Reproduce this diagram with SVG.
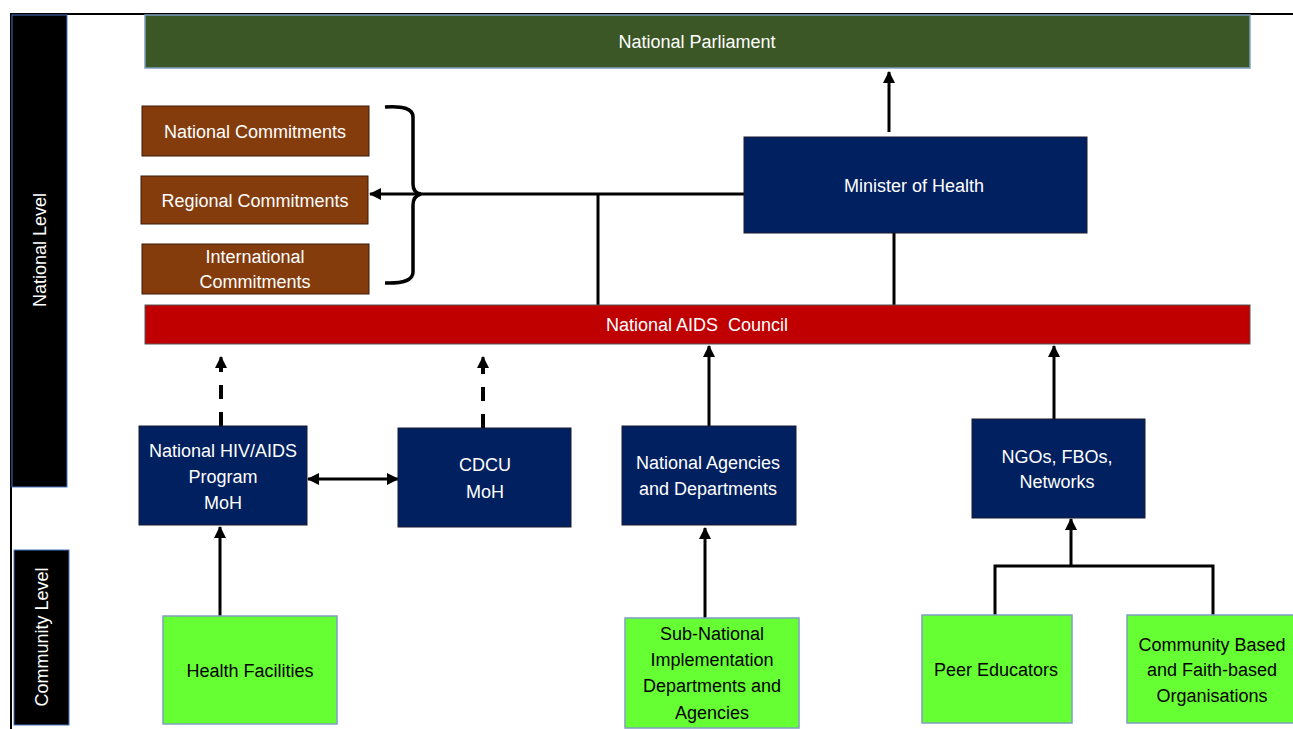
<svg xmlns="http://www.w3.org/2000/svg" width="1293" height="729" viewBox="0 0 1293 729">
  <style>
    text { font-family: "Liberation Sans", Arial, sans-serif; font-size: 18px; text-anchor: middle; }
    .lt { fill: #ffffff; }
    .dk { fill: #000000; }
    .band { fill: #000000; stroke: #4472c4; stroke-width: 1; }
    .navy { fill: #002060; stroke: #1a1a2e; stroke-width: 1; }
    .brown { fill: #843c0c; stroke: #3a1a06; stroke-width: 1; }
    .green { fill: #66ff33; stroke: #7f9fc0; stroke-width: 1.5; }
    .parl { fill: #3a5725; stroke: #7f9fc0; stroke-width: 1.5; }
    .nac { fill: #c00000; stroke: #555555; stroke-width: 1; }
    .line { fill: none; stroke: #000000; stroke-width: 3; }
    .dash { fill: none; stroke: #000000; stroke-width: 4; stroke-dasharray: 14 13; }
  </style>
  <defs>
    <marker id="head" viewBox="0 0 12 12" refX="11" refY="6" markerWidth="12" markerHeight="12" markerUnits="userSpaceOnUse" orient="auto-start-reverse">
      <path d="M0,0 L12,6 L0,12 Z" fill="#000000"/>
    </marker>
  </defs>

  <rect width="1293" height="729" fill="#ffffff"/>

  <!-- outer frame -->
  <path d="M11,729 V14 H1293" fill="none" stroke="#000000" stroke-width="2"/>

  <!-- level bands -->
  <g id="band-national">
    <rect class="band" x="12" y="15" width="55" height="472"/>
    <text class="lt" transform="translate(46,250) rotate(-90)">National Level</text>
  </g>
  <g id="band-community">
    <rect class="band" x="14" y="550" width="55" height="175"/>
    <text class="lt" transform="translate(48,637) rotate(-90)">Community Level</text>
  </g>

  <!-- connectors -->
  <g id="connectors">
    <!-- Minister up to Parliament -->
    <path class="line" d="M889,132 V72" marker-end="url(#head)"/>
    <!-- Minister down to NAC -->
    <path class="line" d="M894,233 V305"/>
    <!-- commitments link -->
    <path class="line" d="M744,194 H370" marker-end="url(#head)"/>
    <path class="line" d="M598,194 V310"/>
    <path d="M385,107 Q413,105 413,117 L413,184 Q413,193 421,194 Q413,196 413,205 L413,272 Q413,284 385,283" fill="none" stroke="#000000" stroke-width="3.5"/>
    <!-- dashed reporting lines to NAC -->
    <path class="dash" d="M221,426 V366"/>
    <path class="line" d="M221,368 V357" marker-end="url(#head)"/>
    <path class="dash" d="M483,428 V368"/>
    <path class="line" d="M483,370 V357" marker-end="url(#head)"/>
    <!-- solid lines to NAC -->
    <path class="line" d="M709,426 V346" marker-end="url(#head)"/>
    <path class="line" d="M1054,419 V346" marker-end="url(#head)"/>
    <!-- HIV program <-> CDCU -->
    <path class="line" d="M308,479 H398" marker-start="url(#head)" marker-end="url(#head)"/>
    <!-- community to national -->
    <path class="line" d="M220,616 V527" marker-end="url(#head)"/>
    <path class="line" d="M705,618 V528" marker-end="url(#head)"/>
    <path class="line" d="M995,615 V566 H1213 V615"/>
    <path class="line" d="M1071,566 V519" marker-end="url(#head)"/>
  </g>

  <g id="national-parliament">
    <rect class="parl" x="145" y="15" width="1105" height="53"/>
    <text class="lt" x="697" y="48">National Parliament</text>
  </g>

  <g id="national-commitments">
    <rect class="brown" x="142" y="106" width="227" height="50"/>
    <text class="lt" x="255" y="138">National Commitments</text>
  </g>
  <g id="regional-commitments">
    <rect class="brown" x="141" y="176" width="227" height="48"/>
    <text class="lt" x="255" y="207">Regional Commitments</text>
  </g>
  <g id="international-commitments">
    <rect class="brown" x="142" y="244" width="227" height="50"/>
    <text class="lt" x="255" y="263">International</text>
    <text class="lt" x="255" y="288">Commitments</text>
  </g>

  <g id="minister-of-health">
    <rect class="navy" x="744" y="137" width="343" height="96"/>
    <text class="lt" x="914" y="192">Minister of Health</text>
  </g>

  <g id="national-aids-council">
    <rect class="nac" x="145" y="305" width="1105" height="39"/>
    <text class="lt" x="697" y="331" xml:space="preserve">National AIDS  Council</text>
  </g>

  <g id="hiv-aids-program">
    <rect class="navy" x="139" y="426" width="168" height="99"/>
    <text class="lt" x="223" y="457">National HIV/AIDS</text>
    <text class="lt" x="223" y="483">Program</text>
    <text class="lt" x="223" y="509">MoH</text>
  </g>

  <g id="cdcu">
    <rect class="navy" x="398" y="428" width="173" height="99"/>
    <text class="lt" x="485" y="471">CDCU</text>
    <text class="lt" x="485" y="498">MoH</text>
  </g>

  <g id="national-agencies">
    <rect class="navy" x="622" y="426" width="174" height="99"/>
    <text class="lt" x="708" y="469">National Agencies</text>
    <text class="lt" x="708" y="495">and Departments</text>
  </g>

  <g id="ngos">
    <rect class="navy" x="972" y="419" width="173" height="99"/>
    <text class="lt" x="1057" y="463">NGOs, FBOs,</text>
    <text class="lt" x="1057" y="488">Networks</text>
  </g>

  <g id="health-facilities">
    <rect class="green" x="163" y="616" width="174" height="108"/>
    <text class="dk" x="250" y="677">Health Facilities</text>
  </g>

  <g id="sub-national">
    <rect class="green" x="625" y="618" width="174" height="110"/>
    <text class="dk" x="712" y="640">Sub-National</text>
    <text class="dk" x="712" y="666">Implementation</text>
    <text class="dk" x="712" y="692">Departments and</text>
    <text class="dk" x="712" y="719">Agencies</text>
  </g>

  <g id="peer-educators">
    <rect class="green" x="922" y="615" width="150" height="108"/>
    <text class="dk" x="996" y="676">Peer Educators</text>
  </g>

  <g id="community-faith-organisations">
    <rect class="green" x="1127" y="615" width="170" height="108"/>
    <text class="dk" x="1212" y="651">Community Based</text>
    <text class="dk" x="1212" y="676">and Faith-based</text>
    <text class="dk" x="1212" y="702">Organisations</text>
  </g>
</svg>
